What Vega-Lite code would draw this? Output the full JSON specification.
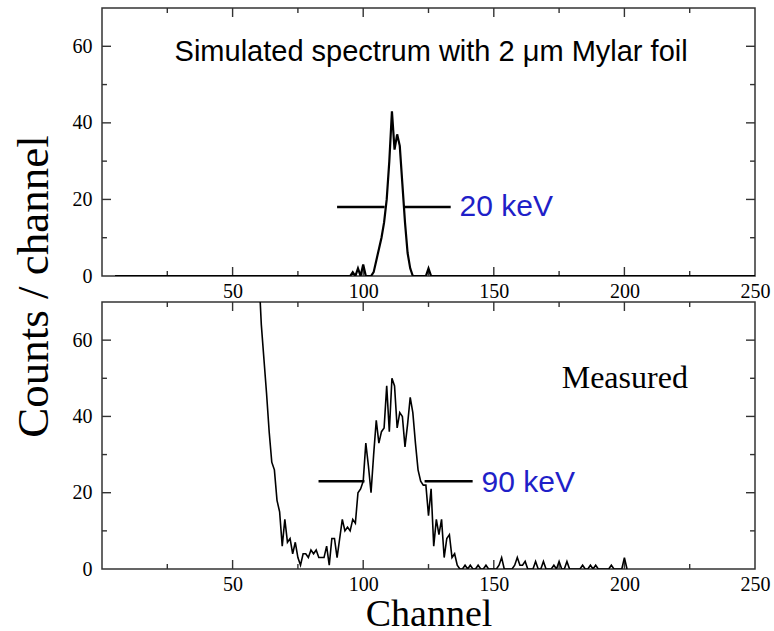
{
  "$schema": "https://vega.github.io/schema/vega-lite/v6.json",
  "padding": {"left": 10, "top": 6, "right": 5, "bottom": 0},
  "background": "white",
  "spacing": 26,
  "bounds": "flush",
  "config": {
    "view": {"stroke": "#333333", "strokeWidth": 1.5},
    "axis": {
      "grid": false, "domain": false, "ticks": false,
      "labelFont": "Liberation Serif", "labelFontSize": 20, "labelColor": "black",
      "labelFlush": false, "labelOverlap": false,
      "titleFont": "Liberation Serif", "titleFontWeight": "normal", "titleColor": "black"
    }
  },
  "datasets": {
    "xmajor": [{"v": 50}, {"v": 100}, {"v": 150}, {"v": 200}],
    "xminor": [{"v": 25}, {"v": 75}, {"v": 125}, {"v": 175}, {"v": 225}],
    "ymajor": [{"v": 20}, {"v": 40}, {"v": 60}],
    "yminor": [{"v": 10}, {"v": 30}, {"v": 50}],
    "simulated": [
      {"channel": 5, "counts": 0}, {"channel": 95, "counts": 0}, {"channel": 96, "counts": 1},
      {"channel": 97, "counts": 0}, {"channel": 98, "counts": 2}, {"channel": 99, "counts": 0},
      {"channel": 100, "counts": 3}, {"channel": 101, "counts": 0}, {"channel": 103, "counts": 0},
      {"channel": 104, "counts": 1}, {"channel": 105, "counts": 4}, {"channel": 106, "counts": 7},
      {"channel": 107, "counts": 10}, {"channel": 108, "counts": 14}, {"channel": 109, "counts": 20},
      {"channel": 110, "counts": 30}, {"channel": 111, "counts": 43}, {"channel": 112, "counts": 33},
      {"channel": 113, "counts": 37}, {"channel": 114, "counts": 34}, {"channel": 115, "counts": 24},
      {"channel": 116, "counts": 14}, {"channel": 117, "counts": 6}, {"channel": 118, "counts": 2},
      {"channel": 119, "counts": 0}, {"channel": 124, "counts": 0}, {"channel": 125, "counts": 2},
      {"channel": 126, "counts": 0}, {"channel": 250, "counts": 0}
    ],
    "measured": [
      {"channel": 60, "counts": 78}, {"channel": 61, "counts": 64}, {"channel": 62, "counts": 55},
      {"channel": 63, "counts": 46}, {"channel": 64, "counts": 36}, {"channel": 65, "counts": 28},
      {"channel": 66, "counts": 26}, {"channel": 67, "counts": 18}, {"channel": 68, "counts": 15},
      {"channel": 69, "counts": 6}, {"channel": 70, "counts": 13}, {"channel": 71, "counts": 7},
      {"channel": 72, "counts": 8}, {"channel": 73, "counts": 4}, {"channel": 74, "counts": 7},
      {"channel": 75, "counts": 3}, {"channel": 76, "counts": 1}, {"channel": 77, "counts": 4},
      {"channel": 78, "counts": 4}, {"channel": 79, "counts": 3}, {"channel": 80, "counts": 5},
      {"channel": 81, "counts": 4}, {"channel": 82, "counts": 5}, {"channel": 83, "counts": 3},
      {"channel": 84, "counts": 3}, {"channel": 85, "counts": 3}, {"channel": 86, "counts": 6},
      {"channel": 87, "counts": 1}, {"channel": 88, "counts": 8}, {"channel": 89, "counts": 8},
      {"channel": 90, "counts": 3}, {"channel": 91, "counts": 8}, {"channel": 92, "counts": 13},
      {"channel": 93, "counts": 10}, {"channel": 94, "counts": 11}, {"channel": 95, "counts": 10},
      {"channel": 96, "counts": 13}, {"channel": 97, "counts": 12}, {"channel": 98, "counts": 20},
      {"channel": 99, "counts": 21}, {"channel": 100, "counts": 23}, {"channel": 101, "counts": 33},
      {"channel": 102, "counts": 27}, {"channel": 103, "counts": 20}, {"channel": 104, "counts": 30},
      {"channel": 105, "counts": 39}, {"channel": 106, "counts": 33}, {"channel": 107, "counts": 36},
      {"channel": 108, "counts": 37}, {"channel": 109, "counts": 48}, {"channel": 110, "counts": 36},
      {"channel": 111, "counts": 50}, {"channel": 112, "counts": 48}, {"channel": 113, "counts": 37},
      {"channel": 114, "counts": 41}, {"channel": 115, "counts": 40}, {"channel": 116, "counts": 32},
      {"channel": 117, "counts": 38}, {"channel": 118, "counts": 45}, {"channel": 119, "counts": 41},
      {"channel": 120, "counts": 33}, {"channel": 121, "counts": 26}, {"channel": 122, "counts": 23},
      {"channel": 123, "counts": 22}, {"channel": 124, "counts": 22}, {"channel": 125, "counts": 14},
      {"channel": 126, "counts": 21}, {"channel": 127, "counts": 6}, {"channel": 128, "counts": 13},
      {"channel": 129, "counts": 9}, {"channel": 130, "counts": 13}, {"channel": 131, "counts": 3},
      {"channel": 132, "counts": 8}, {"channel": 133, "counts": 9}, {"channel": 134, "counts": 3},
      {"channel": 135, "counts": 4}, {"channel": 136, "counts": 1}, {"channel": 137, "counts": 0},
      {"channel": 138, "counts": 0}, {"channel": 139, "counts": 1}, {"channel": 140, "counts": 0},
      {"channel": 141, "counts": 1}, {"channel": 142, "counts": 0}, {"channel": 143, "counts": 0},
      {"channel": 144, "counts": 1}, {"channel": 145, "counts": 0}, {"channel": 146, "counts": 0},
      {"channel": 147, "counts": 1}, {"channel": 148, "counts": 0}, {"channel": 151, "counts": 0},
      {"channel": 152, "counts": 1}, {"channel": 153, "counts": 3}, {"channel": 154, "counts": 0},
      {"channel": 157, "counts": 0}, {"channel": 158, "counts": 1}, {"channel": 159, "counts": 3},
      {"channel": 160, "counts": 1}, {"channel": 161, "counts": 1}, {"channel": 162, "counts": 2},
      {"channel": 163, "counts": 0}, {"channel": 165, "counts": 0}, {"channel": 166, "counts": 2},
      {"channel": 167, "counts": 0}, {"channel": 168, "counts": 0}, {"channel": 169, "counts": 2},
      {"channel": 170, "counts": 0}, {"channel": 172, "counts": 0}, {"channel": 173, "counts": 1},
      {"channel": 174, "counts": 0}, {"channel": 175, "counts": 2}, {"channel": 176, "counts": 0},
      {"channel": 177, "counts": 0}, {"channel": 178, "counts": 2}, {"channel": 179, "counts": 0},
      {"channel": 183, "counts": 0}, {"channel": 184, "counts": 1}, {"channel": 185, "counts": 0},
      {"channel": 186, "counts": 0}, {"channel": 187, "counts": 1}, {"channel": 188, "counts": 0},
      {"channel": 189, "counts": 1}, {"channel": 190, "counts": 0}, {"channel": 194, "counts": 0},
      {"channel": 195, "counts": 1}, {"channel": 196, "counts": 0}, {"channel": 199, "counts": 0},
      {"channel": 200, "counts": 3}, {"channel": 201, "counts": 0}
    ],
    "fwhmTop": [
      {"x1": 90, "x2": 108.2, "level": 18},
      {"x1": 115.4, "x2": 133.5, "level": 18}
    ],
    "fwhmBottom": [
      {"x1": 82.9, "x2": 100.5, "level": 23},
      {"x1": 123.5, "x2": 141.9, "level": 23}
    ]
  },
  "vconcat": [
    {
      "width": 653,
      "height": 268,
      "layer": [
        {
          "data": {"name": "xmajor"},
          "mark": {"type": "rule", "color": "#333333", "strokeWidth": 1.4},
          "encoding": {
            "x": {"field": "v", "type": "quantitative", "scale": {"domain": [0, 250], "nice": false, "zero": false}, "axis": null},
            "y": {"datum": 0, "type": "quantitative", "scale": {"domain": [0, 70], "nice": false}, "axis": null},
            "y2": {"datum": 2.35}
          }
        },
        {
          "data": {"name": "xminor"},
          "mark": {"type": "rule", "color": "#333333", "strokeWidth": 1.4},
          "encoding": {
            "x": {"field": "v", "type": "quantitative", "axis": null},
            "y": {"datum": 0, "type": "quantitative", "axis": null},
            "y2": {"datum": 1.3}
          }
        },
        {
          "data": {"name": "xmajor"},
          "mark": {"type": "rule", "color": "#333333", "strokeWidth": 1.4},
          "encoding": {
            "x": {"field": "v", "type": "quantitative", "axis": null},
            "y": {"datum": 70, "type": "quantitative", "axis": null},
            "y2": {"datum": 67.65}
          }
        },
        {
          "data": {"name": "xminor"},
          "mark": {"type": "rule", "color": "#333333", "strokeWidth": 1.4},
          "encoding": {
            "x": {"field": "v", "type": "quantitative", "axis": null},
            "y": {"datum": 70, "type": "quantitative", "axis": null},
            "y2": {"datum": 68.7}
          }
        },
        {
          "data": {"name": "ymajor"},
          "mark": {"type": "rule", "color": "#333333", "strokeWidth": 1.4},
          "encoding": {
            "y": {"field": "v", "type": "quantitative", "axis": null},
            "x": {"datum": 0, "type": "quantitative", "axis": null},
            "x2": {"datum": 3.45}
          }
        },
        {
          "data": {"name": "yminor"},
          "mark": {"type": "rule", "color": "#333333", "strokeWidth": 1.4},
          "encoding": {
            "y": {"field": "v", "type": "quantitative", "axis": null},
            "x": {"datum": 0, "type": "quantitative", "axis": null},
            "x2": {"datum": 1.9}
          }
        },
        {
          "data": {"name": "ymajor"},
          "mark": {"type": "rule", "color": "#333333", "strokeWidth": 1.4},
          "encoding": {
            "y": {"field": "v", "type": "quantitative", "axis": null},
            "x": {"datum": 250, "type": "quantitative", "axis": null},
            "x2": {"datum": 246.55}
          }
        },
        {
          "data": {"name": "yminor"},
          "mark": {"type": "rule", "color": "#333333", "strokeWidth": 1.4},
          "encoding": {
            "y": {"field": "v", "type": "quantitative", "axis": null},
            "x": {"datum": 250, "type": "quantitative", "axis": null},
            "x2": {"datum": 248.1}
          }
        },
        {
          "data": {"name": "simulated"},
          "mark": {"type": "line", "color": "black", "strokeWidth": 2.2, "clip": true},
          "encoding": {
            "x": {
              "field": "channel", "type": "quantitative",
              "axis": {
                "orient": "bottom", "title": null,
                "values": [50, 100, 150, 200, 250],
                "labelPadding": 5
              }
            },
            "y": {
              "field": "counts", "type": "quantitative",
              "axis": {
                "orient": "left",
                "values": [0, 20, 40, 60],
                "labelPadding": 10,
                "title": "Counts / channel",
                "titleFontSize": 45,
                "titleAngle": -90,
                "titleAlign": "center",
                "titleBaseline": "alphabetic",
                "titleX": -55,
                "titleY": 278
              }
            }
          }
        },
        {
          "data": {"name": "fwhmTop"},
          "mark": {"type": "rule", "color": "black", "strokeWidth": 2.5},
          "encoding": {
            "x": {"field": "x1", "type": "quantitative", "axis": null},
            "x2": {"field": "x2"},
            "y": {"field": "level", "type": "quantitative", "axis": null}
          }
        },
        {
          "data": {"values": [{}]},
          "mark": {"type": "text", "font": "Liberation Sans", "fontSize": 29, "align": "center", "baseline": "alphabetic", "color": "black"},
          "encoding": {
            "x": {"datum": 126, "type": "quantitative", "axis": null},
            "y": {"datum": 56.2, "type": "quantitative", "axis": null},
            "text": {"value": "Simulated spectrum with 2 μm Mylar foil"}
          }
        },
        {
          "data": {"values": [{}]},
          "mark": {"type": "text", "font": "Liberation Sans", "fontSize": 30, "align": "left", "baseline": "alphabetic", "color": "#1f1fc8"},
          "encoding": {
            "x": {"datum": 136.9, "type": "quantitative", "axis": null},
            "y": {"datum": 15.7, "type": "quantitative", "axis": null},
            "text": {"value": "20 keV"}
          }
        }
      ],
      "resolve": {"axis": {"x": "independent", "y": "independent"}}
    },
    {
      "width": 653,
      "height": 267,
      "layer": [
        {
          "data": {"name": "xmajor"},
          "mark": {"type": "rule", "color": "#333333", "strokeWidth": 1.4},
          "encoding": {
            "x": {"field": "v", "type": "quantitative", "scale": {"domain": [0, 250], "nice": false, "zero": false}, "axis": null},
            "y": {"datum": 0, "type": "quantitative", "scale": {"domain": [0, 70], "nice": false}, "axis": null},
            "y2": {"datum": 2.36}
          }
        },
        {
          "data": {"name": "xminor"},
          "mark": {"type": "rule", "color": "#333333", "strokeWidth": 1.4},
          "encoding": {
            "x": {"field": "v", "type": "quantitative", "axis": null},
            "y": {"datum": 0, "type": "quantitative", "axis": null},
            "y2": {"datum": 1.3}
          }
        },
        {
          "data": {"name": "xmajor"},
          "mark": {"type": "rule", "color": "#333333", "strokeWidth": 1.4},
          "encoding": {
            "x": {"field": "v", "type": "quantitative", "axis": null},
            "y": {"datum": 70, "type": "quantitative", "axis": null},
            "y2": {"datum": 67.64}
          }
        },
        {
          "data": {"name": "xminor"},
          "mark": {"type": "rule", "color": "#333333", "strokeWidth": 1.4},
          "encoding": {
            "x": {"field": "v", "type": "quantitative", "axis": null},
            "y": {"datum": 70, "type": "quantitative", "axis": null},
            "y2": {"datum": 68.7}
          }
        },
        {
          "data": {"name": "ymajor"},
          "mark": {"type": "rule", "color": "#333333", "strokeWidth": 1.4},
          "encoding": {
            "y": {"field": "v", "type": "quantitative", "axis": null},
            "x": {"datum": 0, "type": "quantitative", "axis": null},
            "x2": {"datum": 3.45}
          }
        },
        {
          "data": {"name": "yminor"},
          "mark": {"type": "rule", "color": "#333333", "strokeWidth": 1.4},
          "encoding": {
            "y": {"field": "v", "type": "quantitative", "axis": null},
            "x": {"datum": 0, "type": "quantitative", "axis": null},
            "x2": {"datum": 1.9}
          }
        },
        {
          "data": {"name": "ymajor"},
          "mark": {"type": "rule", "color": "#333333", "strokeWidth": 1.4},
          "encoding": {
            "y": {"field": "v", "type": "quantitative", "axis": null},
            "x": {"datum": 250, "type": "quantitative", "axis": null},
            "x2": {"datum": 246.55}
          }
        },
        {
          "data": {"name": "yminor"},
          "mark": {"type": "rule", "color": "#333333", "strokeWidth": 1.4},
          "encoding": {
            "y": {"field": "v", "type": "quantitative", "axis": null},
            "x": {"datum": 250, "type": "quantitative", "axis": null},
            "x2": {"datum": 248.1}
          }
        },
        {
          "data": {"name": "measured"},
          "mark": {"type": "line", "color": "black", "strokeWidth": 1.6, "clip": true},
          "encoding": {
            "x": {
              "field": "channel", "type": "quantitative",
              "axis": {
                "orient": "bottom",
                "values": [50, 100, 150, 200, 250],
                "labelPadding": 5,
                "title": "Channel",
                "titleFontSize": 38,
                "titleBaseline": "alphabetic",
                "titleY": 56
              }
            },
            "y": {
              "field": "counts", "type": "quantitative",
              "axis": {
                "orient": "left", "title": null,
                "values": [0, 20, 40, 60],
                "labelPadding": 10
              }
            }
          }
        },
        {
          "data": {"name": "fwhmBottom"},
          "mark": {"type": "rule", "color": "black", "strokeWidth": 2.5},
          "encoding": {
            "x": {"field": "x1", "type": "quantitative", "axis": null},
            "x2": {"field": "x2"},
            "y": {"field": "level", "type": "quantitative", "axis": null}
          }
        },
        {
          "data": {"values": [{}]},
          "mark": {"type": "text", "font": "Liberation Sans", "fontSize": 30, "align": "left", "baseline": "alphabetic", "color": "#1f1fc8"},
          "encoding": {
            "x": {"datum": 145.3, "type": "quantitative", "axis": null},
            "y": {"datum": 20.1, "type": "quantitative", "axis": null},
            "text": {"value": "90 keV"}
          }
        },
        {
          "data": {"values": [{}]},
          "mark": {"type": "text", "font": "Liberation Serif", "fontSize": 32, "align": "left", "baseline": "alphabetic", "color": "black"},
          "encoding": {
            "x": {"datum": 176, "type": "quantitative", "axis": null},
            "y": {"datum": 47.5, "type": "quantitative", "axis": null},
            "text": {"value": "Measured"}
          }
        }
      ],
      "resolve": {"axis": {"x": "independent", "y": "independent"}}
    }
  ]
}
